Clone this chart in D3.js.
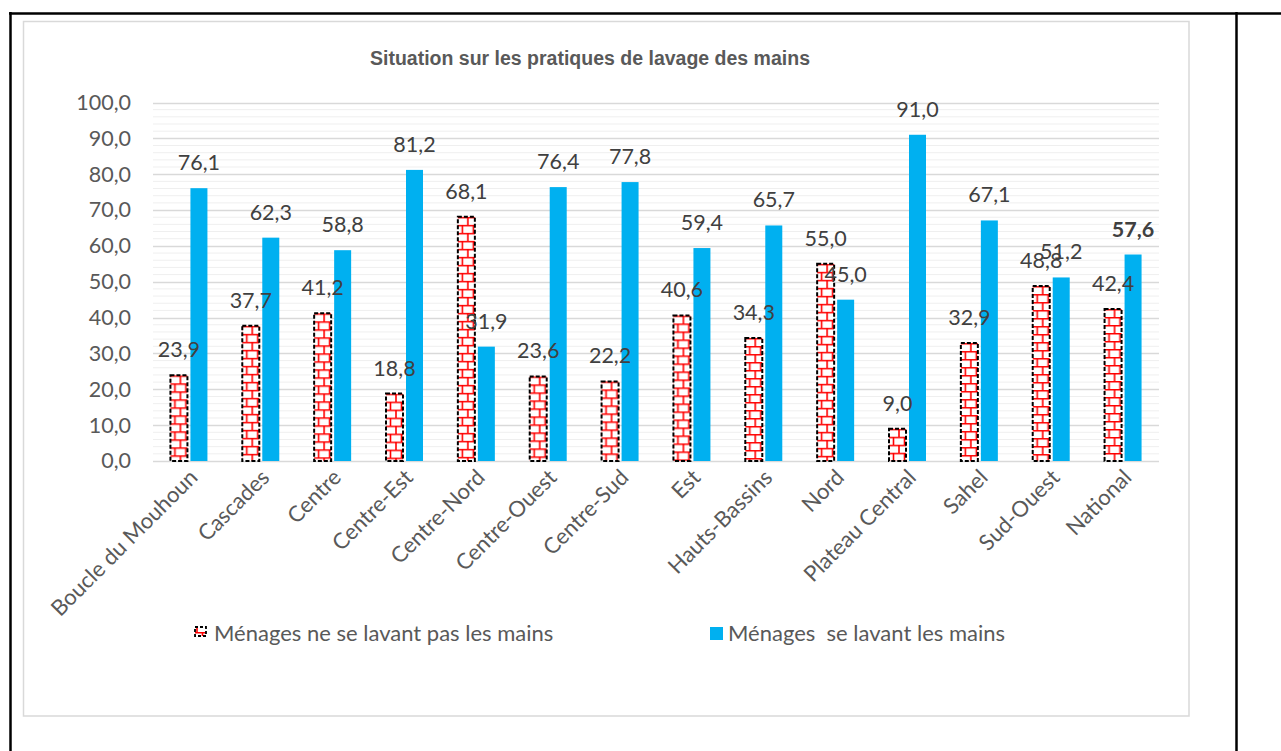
<html>
<head>
<meta charset="utf-8">
<script src="https://cdn.jsdelivr.net/npm/d3@7"></script>
<style>
  body { margin: 0; background: #fff; }
</style>
</head>
<body>
<div id="chart"></div>
<script>
// chart values
var regions = ["Boucle du Mouhoun", "Cascades", "Centre", "Centre-Est", "Centre-Nord", "Centre-Ouest",
               "Centre-Sud", "Est", "Hauts-Bassins", "Nord", "Plateau Central", "Sahel", "Sud-Ouest", "National"];
var notWashing = [23.9, 37.7, 41.2, 18.8, 68.1, 23.6, 22.2, 40.6, 34.3, 55.0, 9.0, 32.9, 48.8, 42.4];
var washing    = [76.1, 62.3, 58.8, 81.2, 31.9, 76.4, 77.8, 59.4, 65.7, 45.0, 91.0, 67.1, 51.2, 57.6];
var yTicks = [0, 10, 20, 30, 40, 50, 60, 70, 80, 90, 100];
var seriesNames = ["Ménages ne se lavant pas les mains", "Ménages  se lavant les mains"];
var title = "Situation sur les pratiques de lavage des mains";

var width = 1281, height = 751;
var blue = "#00b0f0";
var font = "Lato, 'Open Sans', sans-serif";
var fs = "21.5px";
var fmt = function(v) { return v.toFixed(1).replace(".", ","); };

var svg = d3.select("#chart").append("svg")
    .attr("width", width)
    .attr("height", height);

// brick pattern for the first series
var defs = svg.append("defs");
var pat = defs.append("pattern")
    .attr("id", "brick")
    .attr("patternUnits", "userSpaceOnUse")
    .attr("width", 11).attr("height", 16);
pat.append("rect").attr("width", 11).attr("height", 16).attr("fill", "#fff");
pat.append("path")
    .attr("d", "M0,0.75H11M0,8.75H11M10,0V8.5M4.5,8.5V16")
    .attr("stroke", "red").attr("stroke-width", 1.6).attr("fill", "none");

// page frame (table lines)
svg.append("line").attr("x1", 9).attr("x2", width).attr("y1", 13.5).attr("y2", 13.5)
    .attr("stroke", "#000").attr("stroke-width", 2.5);
svg.append("line").attr("x1", 10.5).attr("x2", 10.5).attr("y1", 12).attr("y2", height)
    .attr("stroke", "#000").attr("stroke-width", 2.5);
svg.append("line").attr("x1", 1236.5).attr("x2", 1236.5).attr("y1", 12).attr("y2", height)
    .attr("stroke", "#000").attr("stroke-width", 2.5);

// chart area border
svg.append("rect").attr("x", 23.5).attr("y", 21.5).attr("width", 1165.5).attr("height", 694.5)
    .attr("fill", "#fff").attr("stroke", "#d9d9d9").attr("stroke-width", 1.5);

var margin = {left: 153, right: 1159, top: 102.5, bottom: 461};

var x = d3.scaleBand().domain(regions).range([margin.left, margin.right]).paddingInner(0).paddingOuter(0);
var y = d3.scaleLinear().domain([0, 100]).range([margin.bottom, margin.top]);

var g = svg.append("g");

// minor gridlines every 2
g.selectAll(".minor").data(d3.range(2, 100, 2).filter(function(v) { return v % 10 != 0; }))
  .enter().append("line")
    .attr("x1", margin.left).attr("x2", margin.right)
    .attr("y1", function(d) { return y(d); }).attr("y2", function(d) { return y(d); })
    .attr("stroke", "#efefef").attr("stroke-width", 1);

// major gridlines
g.selectAll(".major").data(yTicks)
  .enter().append("line")
    .attr("x1", margin.left).attr("x2", margin.right)
    .attr("y1", function(d) { return Math.round(y(d)) + 0.5; }).attr("y2", function(d) { return Math.round(y(d)) + 0.5; })
    .attr("stroke", "#d9d9d9").attr("stroke-width", 1.5);

// y axis labels
var yAxis = d3.axisLeft(y).tickValues(yTicks).tickFormat(fmt).tickSize(0).tickPadding(0);
var ya = svg.append("g").attr("transform", "translate(131,0)").call(yAxis);
ya.select(".domain").remove();
ya.selectAll("text")
    .attr("fill", "#595959")
    .style("font-family", font)
    .style("font-size", fs);

var barW = 17, gap = 3;
var series = [notWashing, washing];

// bars
regions.forEach(function(r, i) {
  var cx = x(r) + x.bandwidth() / 2;
  var x0 = cx - gap / 2 - barW;
  var x1 = cx + gap / 2;
  var h = y(0) - y(notWashing[i]);
  g.append("g").attr("transform", "translate(" + x0 + "," + y(notWashing[i]) + ")")
    .append("rect")
    .attr("width", barW).attr("height", h)
    .attr("fill", "url(#brick)")
    .attr("stroke", "#000").attr("stroke-width", 2).attr("stroke-dasharray", "4,2");
  g.append("rect")
    .attr("x", x1).attr("y", y(washing[i]))
    .attr("width", barW).attr("height", y(0) - y(washing[i]))
    .attr("fill", blue);
});

// data labels
series.forEach(function(vals, s) {
  g.selectAll(".lab" + s).data(vals).enter().append("text")
    .attr("x", function(d, i) {
      var cx = x(regions[i]) + x.bandwidth() / 2;
      return s == 0 ? cx - gap / 2 - barW / 2 : cx + gap / 2 + barW / 2;
    })
    .attr("y", function(d) { return y(d) - 18; })
    .attr("text-anchor", "middle")
    .attr("fill", "#404040")
    .style("font-family", font)
    .style("font-size", fs)
    .style("font-weight", function(d, i) { return (s == 1 && i == regions.length - 1) ? "bold" : "normal"; })
    .text(fmt);
});

// category labels
var xAxis = d3.axisBottom(x).tickSize(0).tickPadding(0);
var xa = svg.append("g").attr("transform", "translate(0," + margin.bottom + ")").call(xAxis);
xa.select(".domain").remove();
xa.selectAll("text")
    .attr("fill", "#595959")
    .style("font-family", font)
    .style("font-size", "22px")
    .attr("text-anchor", "end")
    .attr("dy", "0.7em")
    .attr("transform", "translate(-1,7) rotate(-45)");

// title
svg.append("text")
    .attr("x", 590).attr("y", 65)
    .attr("text-anchor", "middle")
    .attr("fill", "#595959")
    .style("font-family", "'Liberation Sans', Arial, sans-serif")
    .style("font-weight", "bold")
    .style("font-size", "19.5px")
    .text(title);

// legend
var lg = svg.append("g");
lg.append("rect").attr("x", 195).attr("y", 627).attr("width", 11).attr("height", 9)
    .attr("fill", "url(#brick)").attr("stroke", "#000").attr("stroke-width", 1.8).attr("stroke-dasharray", "3,2");
lg.append("text").attr("x", 214).attr("y", 641).text(seriesNames[0]);
lg.append("rect").attr("x", 710).attr("y", 627).attr("width", 13).attr("height", 13).attr("fill", blue);
lg.append("text").attr("x", 728).attr("y", 641).style("white-space", "pre").text(seriesNames[1]);
lg.selectAll("text")
    .attr("fill", "#595959")
    .style("font-family", font)
    .style("font-size", "22px");
</script>
</body>
</html>
